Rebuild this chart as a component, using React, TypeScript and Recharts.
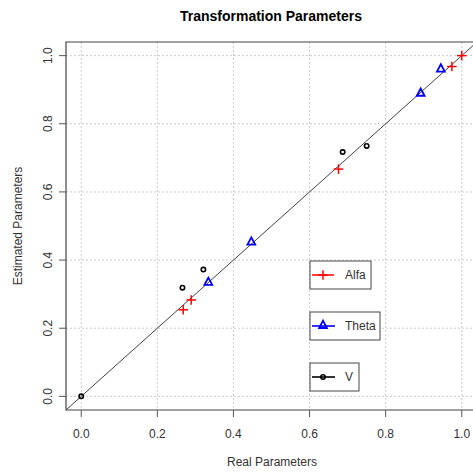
import React from 'react';
import { ScatterChart, Scatter, XAxis, YAxis, CartesianGrid, ReferenceLine, ReferenceArea, Customized } from 'recharts';

const alfaReal = [1.0, 0.974, 0.676, 0.289, 0.268];
const alfaEst = [1.0, 0.968, 0.667, 0.283, 0.254];
const thetaReal = [0.945, 0.892, 0.447, 0.334];
const thetaEst = [0.962, 0.891, 0.454, 0.336];
const vReal = [0.75, 0.687, 0.321, 0.266, 0.0];
const vEst = [0.735, 0.717, 0.372, 0.319, 0.0];
const axisTicks = [0, 0.2, 0.4, 0.6, 0.8, 1.0];
const axisDomain = [-0.04, 1.04];

const toPoints = (xs: number[], ys: number[]) => xs.map((x, i) => ({ x, y: ys[i] }));
const alfaData = toPoints(alfaReal, alfaEst);
const thetaData = toPoints(thetaReal, thetaEst);
const vData = toPoints(vReal, vEst);

const FONT = 'Liberation Sans, Arial, sans-serif';
const TXT = '#333';

const Plus = ({ cx, cy }: any) => (
  <g stroke="#ff0000" strokeWidth={1.5}>
    <line x1={cx - 4.8} y1={cy} x2={cx + 4.8} y2={cy} />
    <line x1={cx} y1={cy - 4.8} x2={cx} y2={cy + 4.8} />
  </g>
);

const Tri = ({ cx, cy }: any) => (
  <polygon
    points={`${cx},${cy - 4.3} ${cx - 3.9},${cy + 3} ${cx + 3.9},${cy + 3}`}
    fill="none"
    stroke="#0000ff"
    strokeWidth={1.8}
  />
);

const Circ = ({ cx, cy }: any) => (
  <circle cx={cx} cy={cy} r={2.2} fill="none" stroke="#000" strokeWidth={1.6} />
);

// recharts hands the tick 8px past the axis (size 6 + margin 2)
const XTick = ({ x, y, payload }: any) => (
  <g>
    <line x1={x} y1={y - 8} x2={x} y2={y - 1} stroke="#555" />
    <text x={x} y={y + 20} textAnchor="middle" fontSize={12} fontFamily={FONT} fill={TXT}>
      {payload.value.toFixed(1)}
    </text>
  </g>
);

const YTick = ({ x, y, payload }: any) => (
  <g>
    <line x1={x + 8} y1={y} x2={x + 1} y2={y} stroke="#555" />
    <text
      x={x - 6}
      y={y}
      textAnchor="middle"
      fontSize={12}
      fontFamily={FONT}
      fill={TXT}
      transform={`rotate(-90 ${x - 6} ${y})`}
    >
      {payload.value.toFixed(1)}
    </text>
  </g>
);

const LegendBox = ({ x, y, w, label, marker }: any) => (
  <g>
    <rect x={x} y={y} width={w} height={28} fill="#fff" stroke="#444" strokeWidth={1} />
    {marker}
    <text x={x + 35} y={y + 18} fontSize={12} fontFamily={FONT} fill={TXT}>
      {label}
    </text>
  </g>
);

const Extras = () => (
  <g>
    <text x={271} y={21} textAnchor="middle" fontSize={14} fontWeight="bold" fontFamily={FONT} fill="#000">
      Transformation Parameters
    </text>
    <text x={272} y={466} textAnchor="middle" fontSize={12} fontFamily={FONT} fill={TXT}>
      Real Parameters
    </text>
    <text
      x={22}
      y={226}
      textAnchor="middle"
      fontSize={12}
      fontFamily={FONT}
      fill={TXT}
      transform="rotate(-90 22 226)"
    >
      Estimated Parameters
    </text>
    <LegendBox
      x={310}
      y={261}
      w={61}
      label="Alfa"
      marker={
        <g>
          <line x1={312} y1={275} x2={334} y2={275} stroke="#ff0000" strokeWidth={1.5} />
          <Plus cx={323} cy={275} />
        </g>
      }
    />
    <LegendBox
      x={310}
      y={312}
      w={70}
      label="Theta"
      marker={
        <g>
          <line x1={312} y1={326} x2={335} y2={326} stroke="#0000ff" strokeWidth={1.6} />
          <Tri cx={323} cy={325} />
        </g>
      }
    />
    <LegendBox
      x={310}
      y={363}
      w={49}
      label="V"
      marker={
        <g>
          <line x1={312} y1={377} x2={335} y2={377} stroke="#000" strokeWidth={1.6} />
          <Circ cx={323} cy={377} />
        </g>
      }
    />
  </g>
);

export default function App() {
  return (
    <div style={{ position: 'absolute', left: 0, top: 0, width: 473, height: 475, overflow: 'hidden', background: '#fff' }}>
      <ScatterChart width={480} height={475} margin={{ top: 42, right: 3, left: 0, bottom: 0 }}>
        <CartesianGrid stroke="#cccccc" strokeDasharray="2 2" horizontalValues={axisTicks} verticalValues={axisTicks} />
        <XAxis
          type="number"
          dataKey="x"
          domain={axisDomain}
          ticks={axisTicks}
          allowDataOverflow
          axisLine={false}
          tickLine={false}
          height={65}
          tick={<XTick />}
        />
        <YAxis
          type="number"
          dataKey="y"
          domain={axisDomain}
          ticks={axisTicks}
          allowDataOverflow
          axisLine={false}
          tickLine={false}
          width={66}
          tick={<YTick />}
        />
        <ReferenceLine
          segment={[
            { x: axisDomain[0], y: axisDomain[0] },
            { x: axisDomain[1], y: axisDomain[1] },
          ]}
          stroke="#444"
          strokeWidth={1}
        />
        <ReferenceArea
          x1={axisDomain[0]}
          x2={axisDomain[1]}
          y1={axisDomain[0]}
          y2={axisDomain[1]}
          fill="none"
          fillOpacity={0}
          stroke="#444"
          strokeWidth={1.2}
        />
        <Scatter data={vData} shape={<Circ />} isAnimationActive={false} />
        <Scatter data={alfaData} shape={<Plus />} isAnimationActive={false} />
        <Scatter data={thetaData} shape={<Tri />} isAnimationActive={false} />
        <Customized component={<Extras />} />
      </ScatterChart>
    </div>
  );
}
